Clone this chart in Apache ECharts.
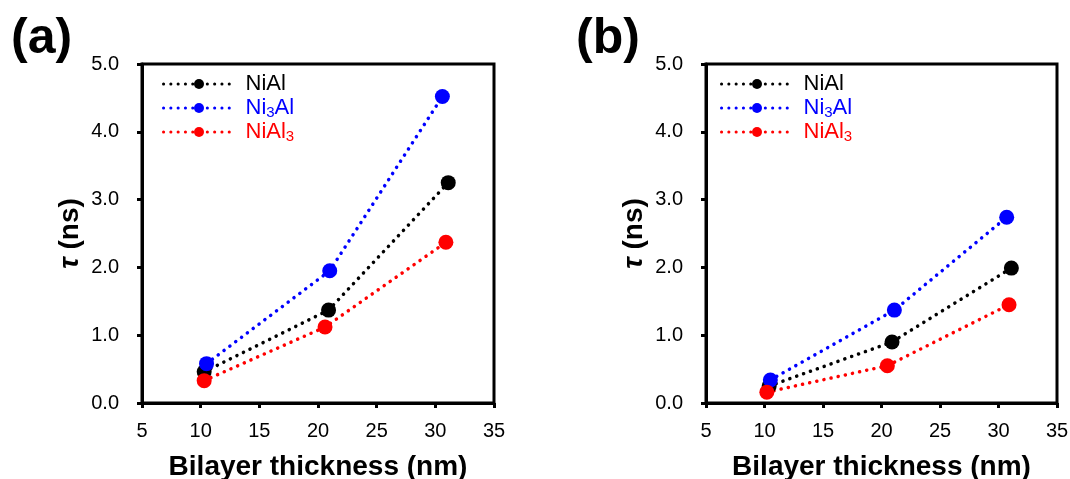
<!DOCTYPE html>
<html>
<head>
<meta charset="utf-8">
<script src="https://cdn.jsdelivr.net/npm/echarts@6/dist/echarts.min.js"></script>
<style>
  html, body { margin: 0; padding: 0; background: #fff; }
  #chart { width: 1070px; height: 479px; }
</style>
</head>
<body>
<div id="chart"></div>
<script>
// Bilayer thickness (nm) vs tau (ns) for three intermetallic phases, two panels
const seriesNames = ['NiAl', 'Ni3Al', 'NiAl3'];
const seriesColors = ['#000000', '#0000ff', '#ff0000'];
const xTicks = [5, 10, 15, 20, 25, 30, 35];
const yTicks = [0, 1, 2, 3, 4, 5];

// panel (a)
const aNiAlX = [10.3, 20.9, 31.1];
const aNiAlY = [0.46, 1.37, 3.25];
const aNi3AlX = [10.5, 21.0, 30.6];
const aNi3AlY = [0.58, 1.95, 4.52];
const aNiAl3X = [10.3, 20.6, 30.9];
const aNiAl3Y = [0.33, 1.12, 2.37];

// panel (b)
const bNiAlX = [10.4, 20.9, 31.1];
const bNiAlY = [0.25, 0.90, 1.99];
const bNi3AlX = [10.5, 21.1, 30.7];
const bNi3AlY = [0.34, 1.37, 2.74];
const bNiAl3X = [10.2, 20.5, 30.9];
const bNiAl3Y = [0.16, 0.55, 1.45];

const FONT = '"Liberation Sans", Arial, Helvetica, sans-serif';

const pairs = (xs, ys) => xs.map((x, i) => [x, ys[i]]);

const panelData = [
  [pairs(aNiAlX, aNiAlY), pairs(aNi3AlX, aNi3AlY), pairs(aNiAl3X, aNiAl3Y)],
  [pairs(bNiAlX, bNiAlY), pairs(bNi3AlX, bNi3AlY), pairs(bNiAl3X, bNiAl3Y)]
];

const grids = [
  { left: 142, right: 576, top: 64, bottom: 76 },
  { left: 706, right: 13, top: 64, bottom: 76 }
].map(g => Object.assign({
  show: true, borderColor: '#000', borderWidth: 3, backgroundColor: 'transparent',
  containLabel: false, outerBoundsMode: 'none'
}, g));

const xAxes = grids.map((g, i) => ({
  type: 'value', gridIndex: i,
  min: xTicks[0], max: xTicks[xTicks.length - 1], interval: xTicks[1] - xTicks[0],
  name: 'Bilayer thickness (nm)', nameLocation: 'middle', nameGap: 50,
  nameTextStyle: { fontFamily: FONT, fontSize: 28, fontWeight: 'bold', color: '#000' },
  axisLine: { show: true, lineStyle: { color: '#000', width: 3 } },
  axisTick: { show: true, inside: false, length: 5, lineStyle: { color: '#000', width: 3 } },
  axisLabel: { fontFamily: FONT, fontSize: 20, color: '#000', margin: 18 },
  splitLine: { show: false }
}));

const yAxes = grids.map((g, i) => ({
  type: 'value', gridIndex: i,
  min: yTicks[0], max: yTicks[yTicks.length - 1], interval: yTicks[1] - yTicks[0],
  name: '{it|τ} (ns)', nameLocation: 'middle', nameGap: 58,
  nameTextStyle: {
    fontFamily: FONT, fontSize: 28, fontWeight: 'bold', color: '#000',
    rich: { it: { fontFamily: FONT, fontSize: 28, fontWeight: 'bold', fontStyle: 'italic', color: '#000' } }
  },
  axisLine: { show: true, lineStyle: { color: '#000', width: 3 } },
  axisTick: { show: true, inside: false, length: 5, lineStyle: { color: '#000', width: 3 } },
  axisLabel: { fontFamily: FONT, fontSize: 20, color: '#000', margin: 23,
    formatter: v => v.toFixed(1) },
  splitLine: { show: false }
}));

const series = [];
panelData.forEach((sets, p) => {
  sets.forEach((pts, k) => {
    series.push({
      type: 'line', name: seriesNames[k], xAxisIndex: p, yAxisIndex: p,
      data: pts, symbol: 'circle', symbolSize: 15,
      itemStyle: { color: seriesColors[k] },
      lineStyle: { color: seriesColors[k], width: 3.5, type: [0.1, 7.2], cap: 'round' },
      emphasis: { disabled: true }, animation: false
    });
  });
});

// legend labels with subscripts
const legendLabel = name => name.replace(/(\d)/g, '{s|$1}');
const legendItems = seriesNames.map((n, k) => ({
  name: n, textStyle: { color: seriesColors[k] }
}));

const legends = [162, 720].map(left => ({
  orient: 'vertical', left: left, top: 72, padding: 0,
  itemWidth: 71, itemHeight: 12.5, itemGap: 0,
  selectedMode: false,
  data: legendItems,
  formatter: legendLabel,
  lineStyle: { width: 3 },
  textStyle: {
    fontFamily: FONT, fontSize: 22, lineHeight: 24, padding: [0, 0, 0, 6],
    rich: { s: { fontFamily: FONT, fontSize: 15, lineHeight: 8, verticalAlign: 'bottom' } }
  }
}));

const chart = echarts.init(document.getElementById('chart'), null, { renderer: 'canvas' });
chart.setOption({
  animation: false,
  backgroundColor: '#fff',
  grid: grids,
  xAxis: xAxes,
  yAxis: yAxes,
  legend: legends,
  series: series,
  graphic: [
    { type: 'text', left: 11, top: 14, style: { text: '(a)', font: 'bold 50px ' + FONT, fill: '#000' } },
    { type: 'text', left: 576, top: 14, style: { text: '(b)', font: 'bold 50px ' + FONT, fill: '#000' } }
  ]
});
</script>
</body>
</html>
